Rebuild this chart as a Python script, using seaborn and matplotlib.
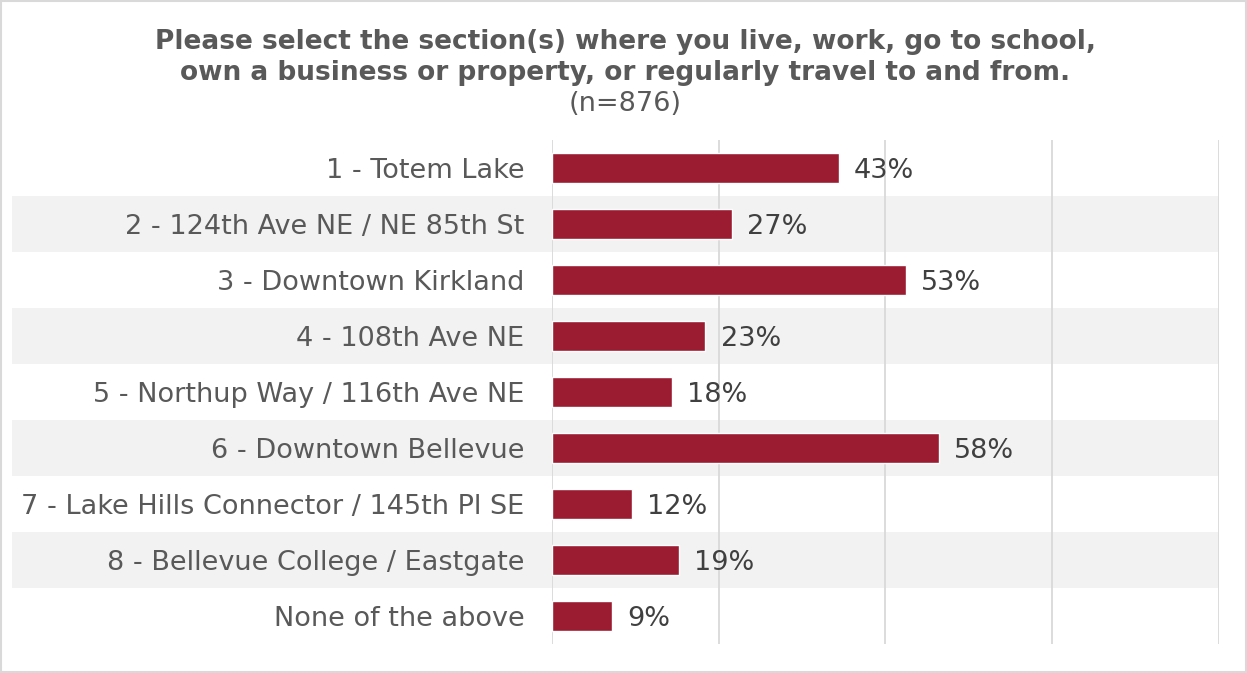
import matplotlib
matplotlib.use('Agg')
import pandas as pd
import seaborn as sns
import matplotlib.pyplot as plt
from matplotlib.patches import Rectangle
from matplotlib.transforms import blended_transform_factory

sections = ['1 - Totem Lake', '2 - 124th Ave NE / NE 85th St', '3 - Downtown Kirkland',
            '4 - 108th Ave NE', '5 - Northup Way / 116th Ave NE', '6 - Downtown Bellevue',
            '7 - Lake Hills Connector / 145th Pl SE', '8 - Bellevue College / Eastgate',
            'None of the above']
percent = [43, 27, 53, 23, 18, 58, 12, 19, 9]

df = pd.DataFrame({'section': sections, 'percent': percent})

sns.set_style('white')
plt.rcParams['font.family'] = ['DejaVu Sans']

fig = plt.figure(figsize=(12.47, 6.73), dpi=100)
ax = fig.add_axes([0.4427, 0.0431, 0.5348, 0.7489])

sns.barplot(data=df, y='section', x='percent', color='#9B1B30', width=0.52,
            saturation=1, ax=ax, zorder=3)

ax.set_xlim(0, 100)
ax.set_ylim(len(sections) - 0.5, -0.5)
ax.set_xticks([0, 25, 50, 75, 100])
ax.xaxis.grid(True, color='#D9D9D9', linewidth=1.3, zorder=1)
ax.set_axisbelow(True)
ax.tick_params(axis='x', length=0, labelbottom=False)
ax.tick_params(axis='y', length=0, pad=20, labelsize=19.5, labelcolor='#595959')
for s in ax.spines.values():
    s.set_visible(False)
ax.set_xlabel('')
ax.set_ylabel('')

# alternating row bands
trans = blended_transform_factory(fig.transFigure, ax.transData)
for i in range(1, len(sections), 2):
    ax.add_patch(Rectangle((12 / 1247, i - 0.5), (1219 - 12) / 1247, 1.0, transform=trans,
                           facecolor='#F2F2F2', edgecolor='none', clip_on=False, zorder=0))

for i, v in enumerate(percent):
    ax.annotate(f'{v}%', (v, i), xytext=(11, 0), textcoords='offset points',
                va='center_baseline', ha='left', fontsize=19.5, color='#404040')

fig.text(0.5013, 0.9376, 'Please select the section(s) where you live, work, go to school,',
         ha='center', va='center', fontsize=19, fontweight='bold', color='#595959')
fig.text(0.5013, 0.8915, 'own a business or property, or regularly travel to and from.',
         ha='center', va='center', fontsize=19, fontweight='bold', color='#595959')
fig.text(0.5013, 0.8455, '(n=876)', ha='center', va='center', fontsize=19.5, color='#595959')

fig.patches.append(Rectangle((0.001, 0.001), 0.998, 0.997, transform=fig.transFigure,
                             fill=False, edgecolor='#D9D9D9', linewidth=1.5))

fig.savefig('out.png', dpi=100)
